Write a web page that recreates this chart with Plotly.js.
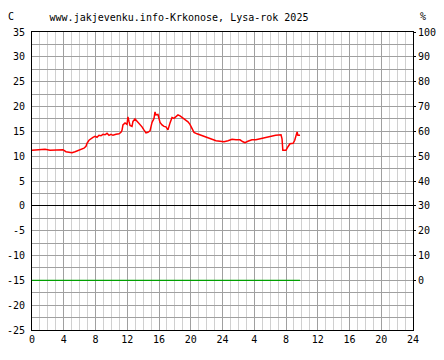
<!DOCTYPE html>
<html>
<head>
<meta charset="utf-8">
<script src="https://cdn.plot.ly/plotly-3.0.1.min.js"></script>
<style>html,body{margin:0;padding:0;background:#fff;}#chart{width:444px;height:360px;}</style>
</head>
<body>
<div id="chart"></div>
<script>
// hours since start of day 1 (0..48)
const hours = [0,0.5,1.0,1.64,2.27,2.9,3.53,3.9,4.28,4.66,5.04,5.42,5.8,6.17,6.55,6.8,6.93,7.18,7.43,7.68,7.94,8.19,8.44,8.69,8.94,9.2,9.45,9.7,9.95,10.2,10.58,10.96,11.21,11.34,11.46,11.72,11.97,12.09,12.22,12.35,12.6,12.72,12.98,13.23,13.35,13.6,13.86,14.1,14.36,14.6,14.87,15.12,15.37,15.5,15.62,15.87,16.13,16.38,16.63,16.88,17.13,17.39,17.64,17.89,18.14,18.39,18.65,18.9,19.15,19.4,19.65,19.9,20.16,20.41,20.79,21.17,21.67,22.17,22.68,23.18,23.69,24.19,24.69,25.2,25.7,26.2,26.58,26.83,27.2,27.7,28.2,28.7,29.2,29.7,30.2,30.7,31.37,31.5,31.6,32.0,32.25,32.5,32.9,33.1,33.4,33.5,33.77];
const temperature = [11.2,11.3,11.3,11.4,11.2,11.2,11.3,11.3,10.9,10.8,10.7,10.9,11.1,11.3,11.6,12.0,12.6,13.2,13.6,13.8,14.0,13.8,14.2,14.1,14.4,14.3,14.6,14.2,14.4,14.2,14.4,14.5,14.8,15.2,16.3,16.7,16.4,17.9,17.0,16.2,16.0,17.0,17.5,17.1,16.7,16.3,15.9,15.3,14.7,14.8,15.1,16.8,17.6,18.9,18.3,18.4,16.8,16.3,16.0,15.9,15.3,16.7,17.8,17.6,18.0,18.3,18.1,17.8,17.4,17.1,16.9,16.4,15.4,14.8,14.5,14.3,14.0,13.8,13.4,13.1,13.0,12.9,13.1,13.4,13.3,13.3,12.9,12.7,13.0,13.3,13.3,13.5,13.6,13.8,14.0,14.2,14.3,13.5,11.2,11.2,11.9,12.5,12.6,13.2,14.9,14.2,14.2];
const humidityHours = [0, 33.77];
const humidity = [0, 0];

const xTickVals = [0,4,8,12,16,20,24,28,32,36,40,44,48];
const xTickText = ["0","4","8","12","16","20","24","4","8","12","16","20","24"];
const yTickVals = [-25,-20,-15,-10,-5,0,5,10,15,20,25,30,35];
const yTickText = ["-25","-20","-15","-10","-5","0","5","10","15","20","25","30","35"];
const y2TickVals = [0,10,20,30,40,50,60,70,80,90,100];
const y2TickText = ["0","10","20","30","40","50","60","70","80","90","100"];

const font = {family: "DejaVu Sans Mono, monospace", size: 10, color: "#000"};

const traces = [
  {x: humidityHours, y: humidity, yaxis: "y2", type: "scatter", mode: "lines",
   line: {color: "#00a000", width: 1.3}, hoverinfo: "skip"},
  {x: hours, y: temperature, type: "scatter", mode: "lines",
   line: {color: "#ff0000", width: 1.5}, hoverinfo: "skip"}
];

const layout = {
  width: 444, height: 360,
  margin: {l: 32, r: 31, t: 32, b: 30, pad: 0},
  paper_bgcolor: "#fff", plot_bgcolor: "#fff",
  showlegend: false,
  font: font,
  title: {text: "www.jakjevenku.info-Krkonose, Lysa-rok 2025", font: font,
          x: 179/444, xanchor: "center", xref: "container", y: 1 - 17/360, yanchor: "middle", yref: "container"},
  xaxis: {range: [0, 48], tickvals: xTickVals, ticktext: xTickText, tickfont: font,
          showgrid: true, gridcolor: "#a0a0a0", gridwidth: 1,
          minor: {dtick: 1, tick0: 0, showgrid: true, gridcolor: "#d0d0d0", gridwidth: 1},
          showline: true, linecolor: "#000", linewidth: 1, mirror: true,
          zeroline: false, ticks: "", fixedrange: true},
  yaxis: {range: [-25, 35], tickvals: yTickVals, ticktext: yTickText, tickfont: font,
          showgrid: true, gridcolor: "#a0a0a0", gridwidth: 1,
          minor: {dtick: 2.5, tick0: 0, showgrid: true, gridcolor: "#a0a0a0", gridwidth: 1},
          showline: true, linecolor: "#000", linewidth: 1,
          zeroline: true, zerolinecolor: "#000", zerolinewidth: 1,
          ticks: "", ticklabelstandoff: 4, fixedrange: true},
  yaxis2: {range: [-20, 100], overlaying: "y", side: "right", tickvals: y2TickVals, ticktext: y2TickText,
           tickfont: font, showgrid: false, zeroline: false, showline: true, linecolor: "#000", linewidth: 1,
           ticks: "outside", ticklen: 2, tickcolor: "#000", ticklabelstandoff: 0, fixedrange: true},
  annotations: [
    {text: "C", xref: "paper", yref: "paper", x: (11-32)/381, y: 1 + 15/298, xanchor: "center", yanchor: "middle", showarrow: false, font: font},
    {text: "%", xref: "paper", yref: "paper", x: (423-32)/381, y: 1 + 15/298, xanchor: "center", yanchor: "middle", showarrow: false, font: font}
  ]
};

Plotly.newPlot("chart", traces, layout, {staticPlot: true, displayModeBar: false});
</script>
</body>
</html>
